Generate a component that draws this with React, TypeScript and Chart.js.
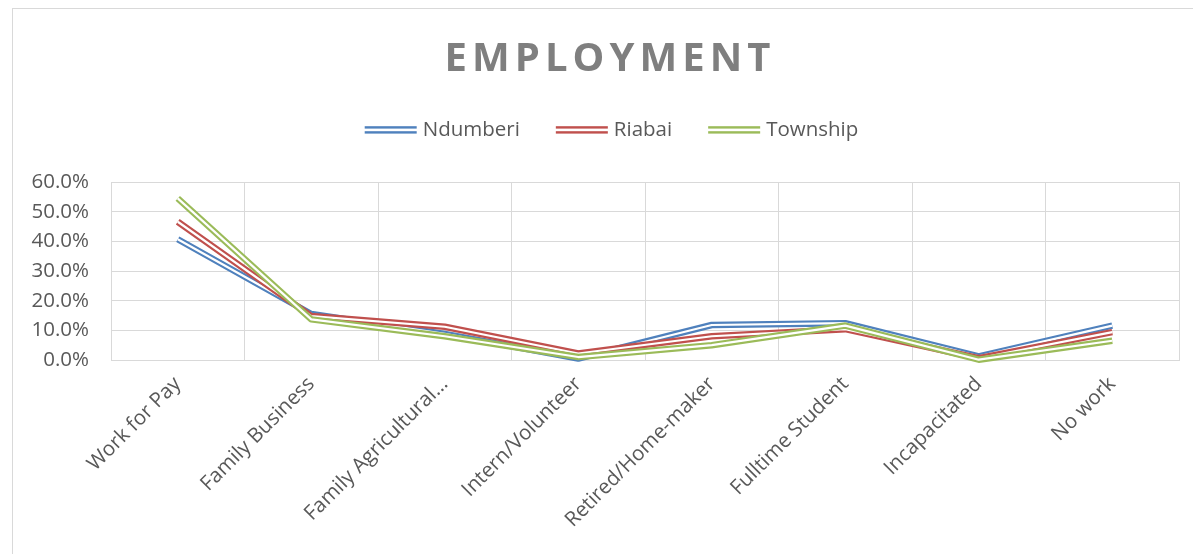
import React, { useEffect, useRef } from 'react';
import { Chart, registerables } from 'chart.js';

Chart.register(...registerables);

const categories = [
  'Work for Pay',
  'Family Business',
  'Family Agricultural...',
  'Intern/Volunteer',
  'Retired/Home-maker',
  'Fulltime Student',
  'Incapacitated',
  'No work',
];
const ndumberi = [40.7, 15.5, 8.8, 0.5, 11.8, 12.4, 1.2, 11.6];
const riabai = [46.6, 14.8, 11.2, 2.2, 8.0, 10.4, 0.6, 9.4];
const township = [54.5, 13.7, 8.0, 1.0, 5.0, 11.6, 0.1, 6.5];
const seriesNames = ['Ndumberi', 'Riabai', 'Township'];
const seriesColors = ['#4F81BD', '#C0504D', '#9BBB59'];
const seriesData = [ndumberi, riabai, township];
const yMin = 0;
const yMax = 60;
const yStep = 10;
const chartTitle = 'EMPLOYMENT';

const FONT = '"Open Sans", "Noto Sans", sans-serif';

const decorPlugin = {
  id: 'decor',
  afterDraw(chart: any) {
    const ctx = chart.ctx as CanvasRenderingContext2D;
    // Title with letter spacing
    ctx.save();
    ctx.font = `bold 40px ${FONT}`;
    ctx.fillStyle = '#7f7f7f';
    ctx.textBaseline = 'middle';
    ctx.textAlign = 'left';
    const target = 326;
    const chars = chartTitle.split('');
    const cw = chars.map((c) => ctx.measureText(c).width);
    const plain = cw.reduce((a, b) => a + b, 0);
    const spacing = (target - plain) / (chars.length - 1);
    let tx = 594.5 - target / 2;
    chars.forEach((c, i) => {
      ctx.fillText(c, tx, 51);
      tx += cw[i] + spacing;
    });
    ctx.restore();

    // Legend (double-line swatches)
    ctx.save();
    ctx.font = `20.5px ${FONT}`;
    ctx.textBaseline = 'middle';
    ctx.textAlign = 'left';
    const sw = 52;
    const gapText = 6;
    const gapItem = 36;
    const widths = seriesNames.map((n) => ctx.measureText(n).width);
    const total = widths.reduce((a, w) => a + sw + gapText + w, 0) + gapItem * (seriesNames.length - 1);
    let x = 598.5 - total / 2;
    const cy = 121;
    seriesNames.forEach((n, i) => {
      ctx.fillStyle = seriesColors[i];
      ctx.fillRect(x, cy - 3.8, sw, 2.4);
      ctx.fillRect(x, cy + 1.2, sw, 2.4);
      ctx.fillStyle = '#595959';
      ctx.fillText(n, x + sw + gapText, cy);
      x += sw + gapText + widths[i] + gapItem;
    });
    ctx.restore();
  },
};

export default function App() {
  const ref = useRef<HTMLCanvasElement | null>(null);

  useEffect(() => {
    if (!ref.current) return;
    const datasets: any[] = [];
    seriesNames.forEach((name, i) => {
      datasets.push({
        label: name,
        data: seriesData[i],
        borderColor: seriesColors[i],
        backgroundColor: seriesColors[i],
        borderWidth: 6.5,
        pointRadius: 0,
        pointHoverRadius: 0,
        tension: 0,
        borderJoinStyle: 'round',
        clip: false,
        order: 2 * (seriesNames.length - 1 - i) + 1,
      });
      datasets.push({
        label: name + ' inner',
        data: seriesData[i],
        borderColor: '#ffffff',
        backgroundColor: '#ffffff',
        borderWidth: 2.2,
        pointRadius: 0,
        pointHoverRadius: 0,
        tension: 0,
        borderJoinStyle: 'round',
        clip: false,
        order: 2 * (seriesNames.length - 1 - i),
      });
    });

    const chart = new Chart(ref.current, {
      type: 'line',
      data: { labels: categories, datasets },
      plugins: [decorPlugin],
      options: {
        animation: false,
        responsive: true,
        maintainAspectRatio: false,
        events: [],
        layout: { padding: { top: 173, left: 10, right: 22, bottom: 0 } },
        plugins: {
          legend: { display: false },
          title: { display: false },
          tooltip: { enabled: false },
        },
        scales: {
          x: {
            offset: true,
            grid: {
              offset: true,
              color: '#d9d9d9',
              lineWidth: 1,
              drawTicks: false,
            },
            border: { display: true, color: '#d9d9d9' },
            ticks: {
              autoSkip: false,
              maxRotation: 45,
              minRotation: 45,
              padding: 12,
              color: '#595959',
              font: { family: FONT, size: 20.5 },
            },
            afterFit(scale: any) {
              scale.height = 194;
            },
          },
          y: {
            min: yMin,
            max: yMax,
            grid: { color: '#d9d9d9', lineWidth: 1, drawTicks: false },
            border: { display: false },
            ticks: {
              stepSize: yStep,
              padding: 22,
              color: '#595959',
              font: { family: FONT, size: 20.5 },
              callback: (v: any) => Number(v).toFixed(1) + '%',
            },
            afterFit(scale: any) {
              scale.width = 88;
            },
          },
        },
      },
    });
    return () => chart.destroy();
  }, []);

  return (
    <div
      style={{
        marginLeft: 4,
        width: 1189,
        height: 546,
        boxSizing: 'border-box',
        borderTop: '1px solid #d9d9d9',
        borderLeft: '1px solid #d9d9d9',
        position: 'relative',
        background: '#ffffff',
        overflow: 'hidden',
      }}
    >
      <canvas ref={ref} style={{ display: 'block' }} />
    </div>
  );
}
